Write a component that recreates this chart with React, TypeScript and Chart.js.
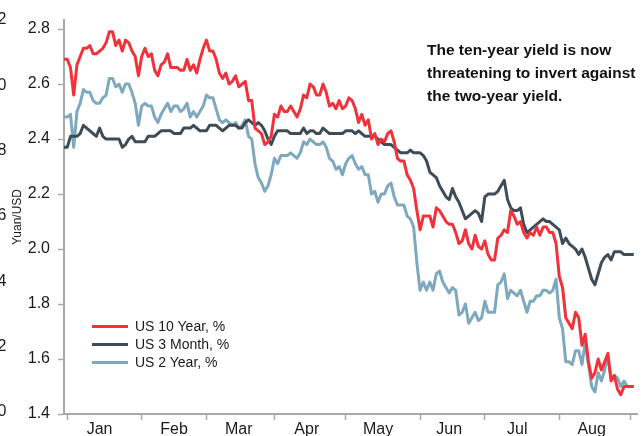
import React, { useEffect, useRef } from 'react';
import { Chart, registerables } from 'chart.js';

Chart.register(...registerables);

// x = weekday index: -1 = Mon 31 Dec 2018, 0 = Tue 1 Jan 2019, ... 175 = Tue 3 Sep 2019
const firstIndex = -1;
const monthLabels = ['Jan', 'Feb', 'Mar', 'Apr', 'May', 'Jun', 'Jul', 'Aug'];
const monthStartIndex = [0, 23, 43, 64, 86, 109, 129, 152, 174];
const monthLabelIndex = [10, 33, 53, 74, 96, 118, 139, 162];
const yieldTicks = [1.4, 1.6, 1.8, 2.0, 2.2, 2.4, 2.6, 2.8];
const yuanTicks = [6.0, 6.2, 6.4, 6.6, 6.8, 7.0, 7.2];
const seriesNames = ['US 10 Year, %', 'US 3 Month, %', 'US 2 Year, %'];
const seriesColors = ['#f2313b', '#3e4c57', '#7da8bd'];
const yuanTitle = 'Yuan/USD';
const annotationLines = [
  'The ten-year yield is now',
  'threatening to invert against',
  'the two-year yield.',
];

const us10y = [
  // Dec 31 + Jan
  2.69, 2.69, 2.66, 2.56, 2.67, 2.70, 2.73, 2.73, 2.74, 2.71, 2.71, 2.72, 2.73, 2.75, 2.79, 2.79, 2.74, 2.76, 2.72, 2.76, 2.75, 2.72, 2.70, 2.63,
  // Feb
  2.70, 2.73, 2.70, 2.71, 2.65, 2.63, 2.67, 2.68, 2.71, 2.66, 2.66, 2.66, 2.65, 2.65, 2.69, 2.65, 2.67, 2.64, 2.69, 2.73,
  // Mar
  2.76, 2.72, 2.72, 2.69, 2.64, 2.62, 2.64, 2.60, 2.61, 2.63, 2.59, 2.60, 2.61, 2.54, 2.54, 2.44, 2.43, 2.42, 2.38, 2.39, 2.41,
  // Apr
  2.49, 2.48, 2.52, 2.50, 2.50, 2.52, 2.50, 2.48, 2.51, 2.56, 2.55, 2.60, 2.59, 2.56, 2.56, 2.60, 2.57, 2.52, 2.53, 2.51, 2.54, 2.51,
  // May
  2.52, 2.55, 2.54, 2.51, 2.46, 2.49, 2.45, 2.47, 2.40, 2.42, 2.38, 2.40, 2.39, 2.42, 2.43, 2.39, 2.33, 2.32, 2.32, 2.27, 2.25, 2.22, 2.14,
  // Jun
  2.07, 2.12, 2.12, 2.12, 2.08, 2.15, 2.14, 2.12, 2.10, 2.09, 2.09, 2.06, 2.02, 2.03, 2.07, 2.02, 2.00, 2.05, 2.01, 2.00,
  // Jul
  2.03, 1.98, 1.96, 1.96, 2.04, 2.05, 2.07, 2.06, 2.14, 2.12, 2.09, 2.10, 2.06, 2.04, 2.06, 2.05, 2.08, 2.05, 2.08, 2.08, 2.06, 2.06, 2.02,
  // Aug
  1.90, 1.86, 1.75, 1.73, 1.71, 1.77, 1.75, 1.65, 1.69, 1.59, 1.53, 1.55, 1.60, 1.56, 1.59, 1.62, 1.52, 1.54, 1.49, 1.47, 1.50, 1.50,
  // Sep
  1.50, 1.50,
];

const us3m = [
  // Dec 31 + Jan
  2.37, 2.37, 2.41, 2.41, 2.41, 2.42, 2.45, 2.44, 2.43, 2.42, 2.41, 2.44, 2.41, 2.40, 2.40, 2.40, 2.40, 2.40, 2.37, 2.38, 2.40, 2.41, 2.39, 2.39,
  // Feb
  2.39, 2.39, 2.41, 2.41, 2.41, 2.42, 2.43, 2.43, 2.43, 2.43, 2.42, 2.42, 2.42, 2.44, 2.44, 2.44, 2.45, 2.44, 2.43, 2.43,
  // Mar
  2.43, 2.45, 2.45, 2.45, 2.44, 2.43, 2.44, 2.45, 2.45, 2.45, 2.44, 2.44, 2.46, 2.47, 2.46, 2.45, 2.46, 2.45, 2.43, 2.40, 2.38,
  // Apr
  2.41, 2.43, 2.43, 2.43, 2.43, 2.42, 2.42, 2.42, 2.42, 2.44, 2.42, 2.43, 2.43, 2.42, 2.42, 2.44, 2.43, 2.42, 2.42, 2.42, 2.42, 2.42,
  // May
  2.43, 2.43, 2.43, 2.42, 2.43, 2.42, 2.41, 2.41, 2.41, 2.41, 2.40, 2.39, 2.38, 2.38, 2.38, 2.37, 2.36, 2.35, 2.35, 2.35, 2.36, 2.35, 2.35,
  // Jun
  2.35, 2.34, 2.32, 2.28, 2.27, 2.26, 2.23, 2.21, 2.19, 2.18, 2.22, 2.19, 2.17, 2.14, 2.11, 2.12, 2.13, 2.14, 2.13, 2.10,
  // Jul
  2.19, 2.20, 2.20, 2.20, 2.21, 2.23, 2.25, 2.18, 2.15, 2.14, 2.14, 2.15, 2.09, 2.06, 2.07, 2.08, 2.09, 2.10, 2.11, 2.10, 2.10, 2.09, 2.08,
  // Aug
  2.07, 2.02, 2.04, 2.02, 2.01, 2.00, 1.98, 2.00, 1.97, 1.93, 1.89, 1.87, 1.91, 1.95, 1.97, 1.98, 1.96, 1.99, 1.99, 1.99, 1.98, 1.98,
  // Sep
  1.98, 1.98,
];

const us2y = [
  // Dec 31 + Jan
  2.48, 2.48, 2.49, 2.37, 2.50, 2.53, 2.58, 2.57, 2.57, 2.54, 2.53, 2.53, 2.55, 2.56, 2.62, 2.62, 2.59, 2.60, 2.57, 2.60, 2.60, 2.57, 2.53, 2.45,
  // Feb
  2.52, 2.53, 2.52, 2.52, 2.48, 2.46, 2.49, 2.51, 2.53, 2.50, 2.52, 2.52, 2.50, 2.51, 2.53, 2.48, 2.50, 2.48, 2.50, 2.52,
  // Mar
  2.56, 2.55, 2.55, 2.51, 2.47, 2.46, 2.47, 2.46, 2.45, 2.46, 2.44, 2.45, 2.47, 2.41, 2.40, 2.31, 2.26, 2.24, 2.21, 2.23, 2.27,
  // Apr
  2.33, 2.31, 2.34, 2.34, 2.34, 2.35, 2.34, 2.33, 2.35, 2.39, 2.38, 2.40, 2.39, 2.38, 2.38, 2.39, 2.37, 2.33, 2.32, 2.29, 2.30, 2.27,
  // May
  2.31, 2.33, 2.34, 2.31, 2.29, 2.30, 2.27, 2.27, 2.20, 2.21, 2.17, 2.20, 2.20, 2.23, 2.24, 2.19, 2.16, 2.16, 2.16, 2.12, 2.11, 2.08, 1.95,
  // Jun
  1.85, 1.88, 1.85, 1.88, 1.85, 1.91, 1.92, 1.88, 1.86, 1.84, 1.86, 1.85, 1.76, 1.77, 1.80, 1.73, 1.75, 1.77, 1.74, 1.75,
  // Jul
  1.81, 1.77, 1.77, 1.77, 1.87, 1.88, 1.91, 1.82, 1.85, 1.84, 1.83, 1.85, 1.81, 1.77, 1.81, 1.81, 1.83, 1.83, 1.85, 1.85, 1.84, 1.85, 1.89,
  // Aug
  1.75, 1.71, 1.59, 1.59, 1.58, 1.63, 1.63, 1.58, 1.66, 1.58, 1.50, 1.48, 1.55, 1.52, 1.56, 1.61, 1.53, 1.54, 1.53, 1.50, 1.52, 1.50,
  // Sep
  1.50, 1.50,
];

const seriesValues = [us10y, us3m, us2y];

const FONT = 'Arial, "Liberation Sans", Helvetica, sans-serif';
const AXIS = '#a8a8a8';
const TEXT = '#1a1a1a';

const CANVAS_LEFT = -30;
const CANVAS_W = 674;
const CANVAS_H = 450;

export default function App() {
  const ref = useRef<HTMLCanvasElement | null>(null);

  useEffect(() => {
    if (!ref.current) return;
    const chart = new Chart(ref.current, {
      type: 'line',
      data: {
        datasets: seriesValues.map((arr, k) => ({
          label: seriesNames[k],
          data: arr.map((v, i) => ({ x: firstIndex + i, y: v })),
          borderColor: seriesColors[k],
          backgroundColor: seriesColors[k],
          borderWidth: 3,
          pointRadius: 0,
          tension: 0,
          fill: false,
          borderJoinStyle: 'round' as const,
          xAxisID: 'x',
          yAxisID: 'y',
        })),
      },
      options: {
        animation: false,
        responsive: false,
        maintainAspectRatio: false,
        events: [],
        layout: { padding: { top: 20, right: 7, bottom: 0, left: 0 } },
        plugins: {
          legend: { display: false },
          tooltip: { enabled: false },
          title: { display: false },
        },
        scales: {
          x: {
            type: 'linear',
            position: 'bottom',
            min: -1,
            max: 176,
            afterBuildTicks: (s: any) => {
              s.ticks = [...monthStartIndex, ...monthLabelIndex]
                .sort((a, b) => a - b)
                .map((v) => ({ value: v }));
            },
            afterFit: (s: any) => {
              s.height = 36;
            },
            ticks: {
              autoSkip: false,
              maxRotation: 0,
              minRotation: 0,
              padding: 0,
              color: TEXT,
              font: { family: FONT, size: 16 },
              callback: (v: any) => {
                const k = monthLabelIndex.indexOf(Number(v));
                return k >= 0 ? monthLabels[k] : '';
              },
            },
            grid: {
              display: true,
              drawOnChartArea: false,
              drawTicks: true,
              tickLength: 6,
              tickWidth: 1.5,
              tickColor: (ctx: any) =>
                ctx.tick && monthLabelIndex.includes(ctx.tick.value) ? 'rgba(0,0,0,0)' : AXIS,
            },
            border: { display: true, color: AXIS, width: 2 },
          },
          y: {
            type: 'linear',
            axis: 'y',
            position: 'left',
            weight: 0,
            min: 1.4,
            max: 2.833,
            afterBuildTicks: (s: any) => {
              s.ticks = yieldTicks.map((v) => ({ value: v }));
            },
            afterFit: (s: any) => {
              s.width = 44;
            },
            ticks: {
              padding: 8,
              color: TEXT,
              font: { family: FONT, size: 16 },
              callback: (v: any) => Number(v).toFixed(1),
            },
            grid: {
              display: true,
              drawOnChartArea: false,
              drawTicks: true,
              tickLength: 6,
              tickWidth: 1.5,
              tickColor: AXIS,
            },
            border: { display: true, color: AXIS, width: 2 },
          },
          yTitle: {
            type: 'linear',
            axis: 'y',
            position: 'left',
            weight: 1,
            afterFit: (s: any) => {
              s.width = 10;
            },
            ticks: { display: false },
            grid: { display: false, drawTicks: false, tickLength: 0 },
            border: { display: false },
            title: {
              display: true,
              text: yuanTitle,
              color: TEXT,
              padding: 0,
              font: { family: FONT, size: 12 },
            },
          },
          yOuter: {
            type: 'linear',
            axis: 'y',
            position: 'left',
            weight: 2,
            min: 5.993,
            max: 7.2,
            afterBuildTicks: (s: any) => {
              s.ticks = yuanTicks.map((v) => ({ value: v }));
            },
            afterFit: (s: any) => {
              s.width = 40;
            },
            ticks: {
              padding: 3.5,
              color: TEXT,
              font: { family: FONT, size: 16 },
              callback: (v: any) => Number(v).toFixed(1),
            },
            grid: { display: false, drawTicks: false, tickLength: 0 },
            border: { display: false },
          },
        },
      } as any,
    });
    return () => chart.destroy();
  }, []);

  return (
    <div
      style={{
        position: 'fixed',
        left: 0,
        top: 0,
        width: 644,
        height: 436,
        overflow: 'hidden',
        background: '#ffffff',
      }}
    >
      <div style={{ position: 'absolute', left: CANVAS_LEFT, top: 0, width: CANVAS_W, height: CANVAS_H }}>
        <canvas ref={ref} width={CANVAS_W} height={CANVAS_H} style={{ width: CANVAS_W, height: CANVAS_H, display: 'block' }} />
      </div>
      <div
        style={{
          position: 'absolute',
          left: 427,
          top: 38,
          fontFamily: FONT,
          fontWeight: 'bold',
          fontSize: 15.5,
          lineHeight: '23px',
          color: '#111111',
          whiteSpace: 'nowrap',
        }}
      >
        {annotationLines.map((t) => (
          <div key={t}>{t}</div>
        ))}
      </div>
      <div style={{ position: 'absolute', left: 92, top: 317, fontFamily: FONT, fontSize: 14, color: TEXT }}>
        {seriesNames.map((n, k) => (
          <div key={n} style={{ display: 'flex', alignItems: 'center', height: 18, whiteSpace: 'nowrap' }}>
            <span style={{ display: 'inline-block', width: 36, height: 3, background: seriesColors[k], marginRight: 7 }} />
            <span>{n}</span>
          </div>
        ))}
      </div>
    </div>
  );
}
